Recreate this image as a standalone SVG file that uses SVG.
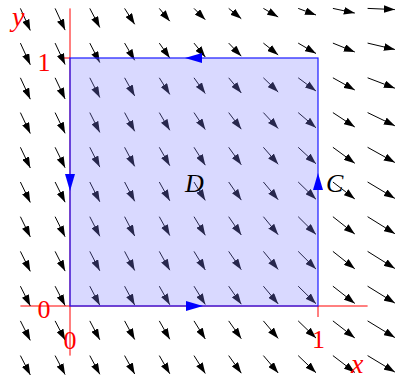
<svg xmlns="http://www.w3.org/2000/svg" width="401" height="381" viewBox="0 0 401 381">
<style>
.v{stroke:#000;stroke-width:1;marker-end:url(#ah)}
.ax{stroke:#ff0000;stroke-width:1;fill:none}
.lab{font-family:"Liberation Serif","Times New Roman",serif;font-size:26px;fill:#ff0000}
.it{font-style:italic}
.blk{fill:#000}
.ea{fill:#0000ff}
</style>
<defs>
<marker id="ah" markerUnits="userSpaceOnUse" markerWidth="11" markerHeight="7.6" refX="11" refY="3.8" orient="auto" viewBox="0 0 11 7.6"><path d="M0,0 L11,3.8 L0,7.6 Z" fill="#000"/></marker>
</defs>
<rect width="401" height="381" fill="#fff"/>
<g id="axes">
<line class="ax" x1="20.4" y1="306" x2="367.6" y2="306"/>
<line class="ax" x1="70" y1="8.4" x2="70" y2="355.6"/>
<line class="ax" x1="59" y1="58" x2="70" y2="58"/>
<line class="ax" x1="318" y1="306" x2="318" y2="317"/>
</g>
<g id="field">
<line class="v" x1="20.4" y1="8.4" x2="30.3" y2="30.5"/>
<line class="v" x1="55.1" y1="8.4" x2="65.1" y2="30.1"/>
<line class="v" x1="89.8" y1="8.4" x2="99.8" y2="27.5"/>
<line class="v" x1="124.6" y1="8.4" x2="134.7" y2="24.3"/>
<line class="v" x1="159.3" y1="8.4" x2="169.8" y2="21.2"/>
<line class="v" x1="194" y1="8.4" x2="205.3" y2="19.7"/>
<line class="v" x1="228.7" y1="8.4" x2="241.3" y2="18.7"/>
<line class="v" x1="263.4" y1="8.4" x2="278.2" y2="17"/>
<line class="v" x1="298.2" y1="8.4" x2="316" y2="15"/>
<line class="v" x1="332.9" y1="8.4" x2="354.8" y2="13.1"/>
<line class="v" x1="367.6" y1="8.4" x2="394.9" y2="9.6"/>

<line class="v" x1="20.4" y1="43.1" x2="30.3" y2="64.8"/>
<line class="v" x1="55.1" y1="43.1" x2="65.1" y2="64.5"/>
<line class="v" x1="89.8" y1="43.1" x2="99.8" y2="62.6"/>
<line class="v" x1="124.6" y1="43.1" x2="134.7" y2="60.3"/>
<line class="v" x1="159.3" y1="43.1" x2="169.8" y2="58.1"/>
<line class="v" x1="194" y1="43.1" x2="205.3" y2="57"/>
<line class="v" x1="228.7" y1="43.1" x2="241.3" y2="56.2"/>
<line class="v" x1="263.4" y1="43.1" x2="278.2" y2="54.9"/>
<line class="v" x1="298.2" y1="43.1" x2="316" y2="53.5"/>
<line class="v" x1="332.9" y1="43.1" x2="354.8" y2="52"/>
<line class="v" x1="367.6" y1="43.1" x2="394.9" y2="49.5"/>

<line class="v" x1="20.4" y1="77.8" x2="30.3" y2="99.2"/>
<line class="v" x1="55.1" y1="77.8" x2="65.1" y2="98.9"/>
<line class="v" x1="89.8" y1="77.8" x2="99.8" y2="97.5"/>
<line class="v" x1="124.6" y1="77.8" x2="134.7" y2="95.9"/>
<line class="v" x1="159.3" y1="77.8" x2="169.8" y2="94.4"/>
<line class="v" x1="194" y1="77.8" x2="205.3" y2="93.6"/>
<line class="v" x1="228.7" y1="77.8" x2="241.3" y2="93"/>
<line class="v" x1="263.4" y1="77.8" x2="278.2" y2="92.1"/>
<line class="v" x1="298.2" y1="77.8" x2="316" y2="91"/>
<line class="v" x1="332.9" y1="77.8" x2="354.8" y2="90"/>
<line class="v" x1="367.6" y1="77.8" x2="394.9" y2="88.2"/>

<line class="v" x1="20.4" y1="112.6" x2="30.3" y2="133.6"/>
<line class="v" x1="55.1" y1="112.6" x2="65.1" y2="133.3"/>
<line class="v" x1="89.8" y1="112.6" x2="99.8" y2="132.4"/>
<line class="v" x1="124.6" y1="112.6" x2="134.7" y2="131.3"/>
<line class="v" x1="159.3" y1="112.6" x2="169.8" y2="130.3"/>
<line class="v" x1="194" y1="112.6" x2="205.3" y2="129.6"/>
<line class="v" x1="228.7" y1="112.6" x2="241.3" y2="129.2"/>
<line class="v" x1="263.4" y1="112.6" x2="278.2" y2="128.5"/>
<line class="v" x1="298.2" y1="112.6" x2="316" y2="127.8"/>
<line class="v" x1="332.9" y1="112.6" x2="354.8" y2="127"/>
<line class="v" x1="367.6" y1="112.6" x2="394.9" y2="125.8"/>

<line class="v" x1="20.4" y1="147.3" x2="30.3" y2="168"/>
<line class="v" x1="55.1" y1="147.3" x2="65.1" y2="167.7"/>
<line class="v" x1="89.8" y1="147.3" x2="99.8" y2="167.1"/>
<line class="v" x1="124.6" y1="147.3" x2="134.7" y2="166.4"/>
<line class="v" x1="159.3" y1="147.3" x2="169.8" y2="165.7"/>
<line class="v" x1="194" y1="147.3" x2="205.3" y2="165.2"/>
<line class="v" x1="228.7" y1="147.3" x2="241.3" y2="164.8"/>
<line class="v" x1="263.4" y1="147.3" x2="278.2" y2="164.3"/>
<line class="v" x1="298.2" y1="147.3" x2="316" y2="163.8"/>
<line class="v" x1="332.9" y1="147.3" x2="354.8" y2="163.3"/>
<line class="v" x1="367.6" y1="147.3" x2="394.9" y2="162.5"/>

<line class="v" x1="20.4" y1="182" x2="30.3" y2="202.5"/>
<line class="v" x1="55.1" y1="182" x2="65.1" y2="202.2"/>
<line class="v" x1="89.8" y1="182" x2="99.8" y2="201.8"/>
<line class="v" x1="124.6" y1="182" x2="134.7" y2="201.3"/>
<line class="v" x1="159.3" y1="182" x2="169.8" y2="200.8"/>
<line class="v" x1="194" y1="182" x2="205.3" y2="200.4"/>
<line class="v" x1="228.7" y1="182" x2="241.3" y2="200.1"/>
<line class="v" x1="263.4" y1="182" x2="278.2" y2="199.7"/>
<line class="v" x1="298.2" y1="182" x2="316" y2="199.3"/>
<line class="v" x1="332.9" y1="182" x2="354.8" y2="198.9"/>
<line class="v" x1="367.6" y1="182" x2="394.9" y2="198.4"/>

<line class="v" x1="20.4" y1="216.7" x2="30.3" y2="236.9"/>
<line class="v" x1="55.1" y1="216.7" x2="65.1" y2="236.7"/>
<line class="v" x1="89.8" y1="216.7" x2="99.8" y2="236.3"/>
<line class="v" x1="124.6" y1="216.7" x2="134.7" y2="236"/>
<line class="v" x1="159.3" y1="216.7" x2="169.8" y2="235.6"/>
<line class="v" x1="194" y1="216.7" x2="205.3" y2="235.3"/>
<line class="v" x1="228.7" y1="216.7" x2="241.3" y2="235"/>
<line class="v" x1="263.4" y1="216.7" x2="278.2" y2="234.7"/>
<line class="v" x1="298.2" y1="216.7" x2="316" y2="234.4"/>
<line class="v" x1="332.9" y1="216.7" x2="354.8" y2="234"/>
<line class="v" x1="367.6" y1="216.7" x2="394.9" y2="233.7"/>

<line class="v" x1="20.4" y1="251.4" x2="30.3" y2="271.4"/>
<line class="v" x1="55.1" y1="251.4" x2="65.1" y2="271.1"/>
<line class="v" x1="89.8" y1="251.4" x2="99.8" y2="270.8"/>
<line class="v" x1="124.6" y1="251.4" x2="134.7" y2="270.5"/>
<line class="v" x1="159.3" y1="251.4" x2="169.8" y2="270.2"/>
<line class="v" x1="194" y1="251.4" x2="205.3" y2="270"/>
<line class="v" x1="228.7" y1="251.4" x2="241.3" y2="269.7"/>
<line class="v" x1="263.4" y1="251.4" x2="278.2" y2="269.4"/>
<line class="v" x1="298.2" y1="251.4" x2="316" y2="269.1"/>
<line class="v" x1="332.9" y1="251.4" x2="354.8" y2="268.8"/>
<line class="v" x1="367.6" y1="251.4" x2="394.9" y2="268.5"/>

<line class="v" x1="20.4" y1="286.2" x2="30.3" y2="305.9"/>
<line class="v" x1="55.1" y1="286.2" x2="65.1" y2="305.6"/>
<line class="v" x1="89.8" y1="286.2" x2="99.8" y2="305.3"/>
<line class="v" x1="124.6" y1="286.2" x2="134.7" y2="305.1"/>
<line class="v" x1="159.3" y1="286.2" x2="169.8" y2="304.8"/>
<line class="v" x1="194" y1="286.2" x2="205.3" y2="304.5"/>
<line class="v" x1="228.7" y1="286.2" x2="241.3" y2="304.2"/>
<line class="v" x1="263.4" y1="286.2" x2="278.2" y2="303.9"/>
<line class="v" x1="298.2" y1="286.2" x2="316" y2="303.7"/>
<line class="v" x1="332.9" y1="286.2" x2="354.8" y2="303.4"/>
<line class="v" x1="367.6" y1="286.2" x2="394.9" y2="303.1"/>

<line class="v" x1="20.4" y1="320.9" x2="30.3" y2="340.4"/>
<line class="v" x1="55.1" y1="320.9" x2="65.1" y2="340.1"/>
<line class="v" x1="89.8" y1="320.9" x2="99.8" y2="339.8"/>
<line class="v" x1="124.6" y1="320.9" x2="134.7" y2="339.5"/>
<line class="v" x1="159.3" y1="320.9" x2="169.8" y2="339.3"/>
<line class="v" x1="194" y1="320.9" x2="205.3" y2="339"/>
<line class="v" x1="228.7" y1="320.9" x2="241.3" y2="338.7"/>
<line class="v" x1="263.4" y1="320.9" x2="278.2" y2="338.4"/>
<line class="v" x1="298.2" y1="320.9" x2="316" y2="338.1"/>
<line class="v" x1="332.9" y1="320.9" x2="354.8" y2="337.9"/>
<line class="v" x1="367.6" y1="320.9" x2="394.9" y2="337.6"/>

<line class="v" x1="20.4" y1="355.6" x2="30.3" y2="374.9"/>
<line class="v" x1="55.1" y1="355.6" x2="65.1" y2="374.6"/>
<line class="v" x1="89.8" y1="355.6" x2="99.8" y2="374.3"/>
<line class="v" x1="124.6" y1="355.6" x2="134.7" y2="374"/>
<line class="v" x1="159.3" y1="355.6" x2="169.8" y2="373.8"/>
<line class="v" x1="194" y1="355.6" x2="205.3" y2="373.5"/>
<line class="v" x1="228.7" y1="355.6" x2="241.3" y2="373.2"/>
<line class="v" x1="263.4" y1="355.6" x2="278.2" y2="373"/>
<line class="v" x1="298.2" y1="355.6" x2="316" y2="372.7"/>
<line class="v" x1="332.9" y1="355.6" x2="354.8" y2="372.4"/>
<line class="v" x1="367.6" y1="355.6" x2="394.9" y2="372.1"/>
</g>
<g id="region">
<rect x="70" y="58" width="248" height="248" fill="#8080ff" fill-opacity="0.3" stroke="#1a1aff" stroke-width="1.2"/>
<polygon class="ea" points="203,306 186,301 186,311"/>
<polygon class="ea" points="185,58 202,53 202,63"/>
<polygon class="ea" points="318,173 313,190 323,190"/>
<polygon class="ea" points="70,191 65,174 75,174"/>
</g>
<g id="labels">
<text class="lab it" x="12" y="26" style="font-size:28px">y</text>
<text class="lab" x="44" y="70.5" text-anchor="middle">1</text>
<text class="lab" x="44" y="318" text-anchor="middle">0</text>
<text class="lab" x="70" y="348.5" text-anchor="middle">0</text>
<text class="lab" x="318.5" y="348" text-anchor="middle">1</text>
<text class="lab it" x="351" y="373" style="font-size:28px">x</text>
<text class="lab it blk" x="185" y="191.5">D</text>
<text class="lab it blk" x="326" y="191.5">C</text>
</g>
</svg>
